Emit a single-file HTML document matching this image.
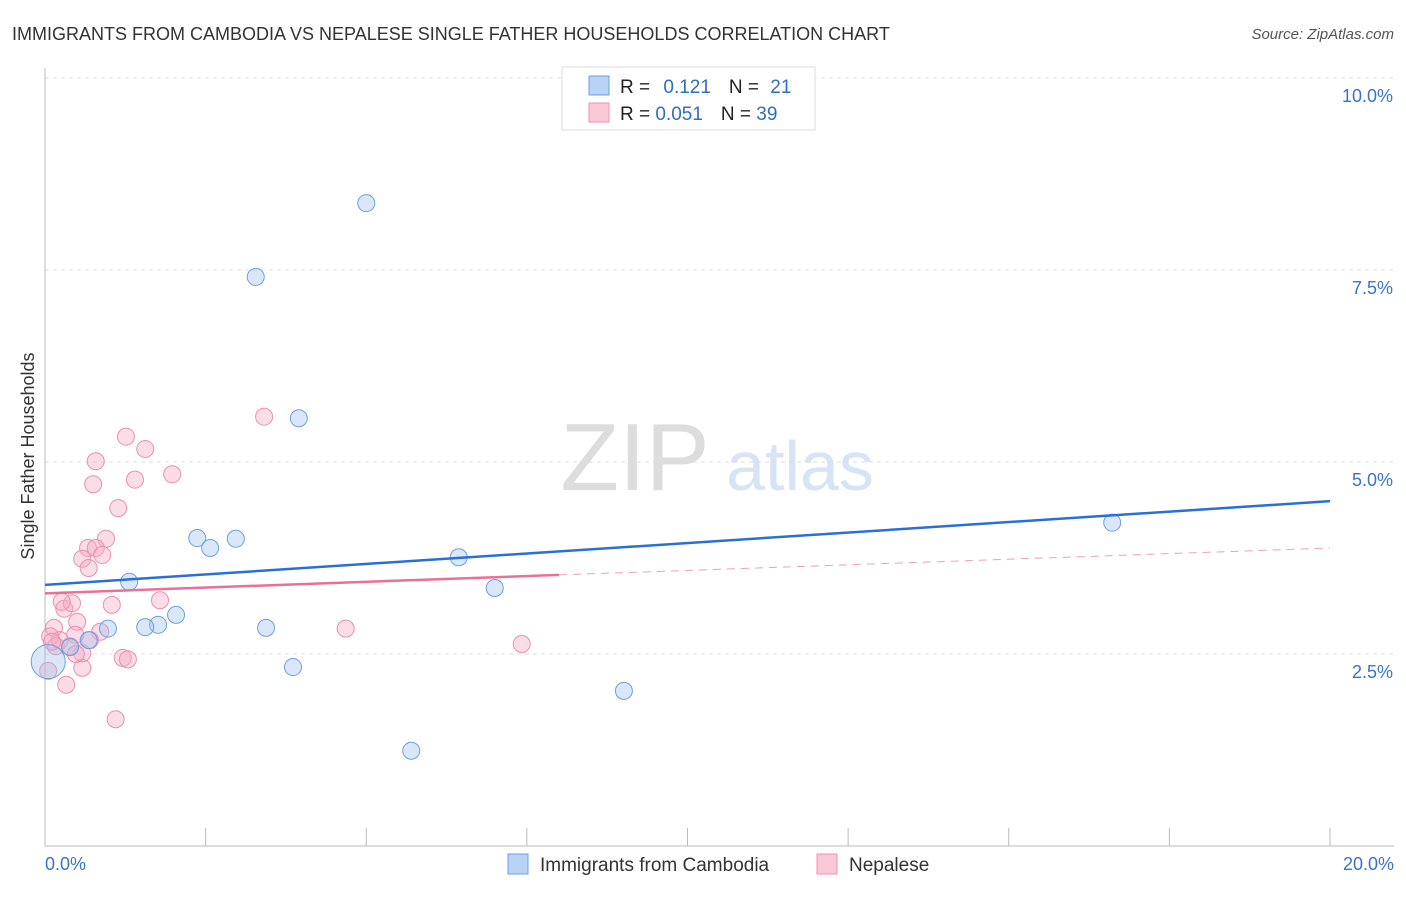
<!DOCTYPE html>
<html><head><meta charset="utf-8"><style>
body{margin:0;background:#fff;font-family:"Liberation Sans",sans-serif}
svg text{font-family:"Liberation Sans",sans-serif}
</style></head><body>
<svg id="chart" width="1406" height="892" xmlns="http://www.w3.org/2000/svg">
<text x="12" y="40" font-size="18" fill="#333">IMMIGRANTS FROM CAMBODIA VS NEPALESE SINGLE FATHER HOUSEHOLDS CORRELATION CHART</text>
<text x="1394" y="39" font-size="15" fill="#555" text-anchor="end" font-style="italic">Source: ZipAtlas.com</text>
<g>
<text x="635" y="490" font-size="96" fill="#ddd" text-anchor="middle" font-family="Liberation Serif">ZIP</text>
<text x="800" y="490" font-size="70" fill="#d6e4f5" text-anchor="middle">atlas</text>
</g>
<g id="grid"></g>
<g id="axes"></g>
<g id="marks"></g>
<text transform="translate(34,456) rotate(-90)" font-size="18" fill="#333" text-anchor="middle">Single Father Households</text>
<g>
<rect x="562" y="67" width="253" height="63" fill="#fff" stroke="#ddd"/>
<rect x="589" y="76" width="20" height="19" fill="#b8d3f5" stroke="#6e9fe0"/>
<rect x="589" y="103" width="20" height="19" fill="#fac8d6" stroke="#ee92b0"/>
<text x="620" y="93" font-size="19" fill="#222">R = <tspan fill="#2d6cc9" dx="8">0.121</tspan><tspan dx="18" fill="#222">N = </tspan><tspan fill="#2d6cc9" dx="6">21</tspan></text>
<text x="620" y="120" font-size="19" fill="#222">R = <tspan fill="#2d6cc9">0.051</tspan><tspan dx="18" fill="#222">N = </tspan><tspan fill="#2d6cc9">39</tspan></text>
</g>
<g>
<rect x="508" y="854" width="20" height="20" fill="#b8d3f5" stroke="#6e9fe0"/>
<text x="540" y="871" font-size="19" fill="#333">Immigrants from Cambodia</text>
<rect x="817" y="854" width="20" height="20" fill="#fac8d6" stroke="#ee92b0"/>
<text x="849" y="871" font-size="19" fill="#333">Nepalese</text>
</g>
</svg>
<script>
const blueX=[5.0,3.28,3.95,2.37,2.57,2.97,1.31,0.98,1.76,1.56,2.04,0.68,0.39,3.44,3.86,6.44,7.0,9.01,5.7,16.61,0.05];
const blueY=[8.37,7.41,5.57,4.01,3.88,4.0,3.44,2.83,2.88,2.85,3.01,2.68,2.59,2.84,2.33,3.76,3.36,2.02,1.24,4.21,2.4];
const pinkX=[1.26,1.56,0.79,1.98,0.75,1.4,3.41,1.14,0.95,0.67,0.79,0.89,0.58,0.68,1.79,1.04,0.3,0.42,0.14,0.5,0.86,0.47,0.23,0.08,0.17,4.68,7.42,0.58,0.33,1.21,1.29,1.1,0.05,0.58,0.7,0.11,0.26,0.39,0.48];
const pinkY=[5.33,5.17,5.01,4.84,4.71,4.77,5.59,4.4,4.0,3.88,3.88,3.79,3.74,3.62,3.2,3.14,3.09,3.16,2.84,2.92,2.79,2.75,2.68,2.73,2.6,2.83,2.63,2.32,2.1,2.45,2.43,1.65,2.28,2.51,2.68,2.66,3.18,2.6,2.5];
const yTicks=[2.5,5.0,7.5,10.0];
const yTickLabels=["2.5%","5.0%","7.5%","10.0%"];
const xTicks=[0,2.5,5,7.5,10,12.5,15,17.5,20];
const xTickLabels=["0.0%","20.0%"];
const blueTrend=[3.40,4.49];
const pinkTrend=[3.29,3.53,3.88];
const pinkSolidEnd=8.0;
const NS="http://www.w3.org/2000/svg";
const sx=v=>45+v/20*1285, sy=v=>846-v*76.8;
function mk(t,a,p){const e=document.createElementNS(NS,t);for(const k in a)e.setAttribute(k,a[k]);p.appendChild(e);return e;}
const grid=document.getElementById('grid'),axes=document.getElementById('axes'),marks=document.getElementById('marks');
yTicks.forEach((v,i)=>{
 const l=mk('line',{x1:45,x2:1394,y1:sy(v),y2:sy(v),stroke:'#ddd','stroke-dasharray':'4,4'},grid);
 
 
 const t=mk('text',{x:1393,y:sy(v)+24,'font-size':18,fill:'#3a73cc','text-anchor':'end'},axes);
 t.textContent=yTickLabels[i];
 
 
});
let ax=mk('line',{x1:45,x2:45,y1:68,y2:846,stroke:'#bbb'},axes);


ax=mk('line',{x1:45,x2:1394,y1:846,y2:846,stroke:'#bbb'},axes);


xTicks.forEach(v=>{const l=mk('line',{x1:sx(v),x2:sx(v),y1:828,y2:846,stroke:'#bbb'},axes);
 
 });
[[0,'start',45],[20,'end',1394]].forEach((d,i)=>{const t=mk('text',{x:d[2],y:870,'font-size':18,fill:'#3a73cc','text-anchor':d[1]},axes);t.textContent=xTickLabels[i];
 
 });
pinkX.forEach((x,i)=>{const c=mk('circle',{cx:sx(x),cy:sy(pinkY[i]),r:8.5,fill:'rgba(246,170,195,0.4)',stroke:'#eb8fb0','stroke-width':1},marks);
 
 });
blueX.forEach((x,i)=>{const c=mk('circle',{cx:sx(x),cy:sy(blueY[i]),r:i==20?17:8.5,fill:'rgba(160,196,240,0.4)',stroke:'#6e9fe0','stroke-width':1},marks);
 
 });
let tl=mk('line',{x1:sx(0),y1:sy(blueTrend[0]),x2:sx(20),y2:sy(blueTrend[1]),stroke:'#2a6fd6','stroke-width':2.5},marks);


tl=mk('line',{x1:sx(0),y1:sy(pinkTrend[0]),x2:sx(pinkSolidEnd),y2:sy(pinkTrend[1]),stroke:'#e8709a','stroke-width':2.5},marks);


tl=mk('line',{x1:sx(pinkSolidEnd),y1:sy(pinkTrend[1]),x2:sx(20),y2:sy(pinkTrend[2]),stroke:'#eba0bb','stroke-width':1,'stroke-dasharray':'8,6'},marks);


</script>
</body></html>
